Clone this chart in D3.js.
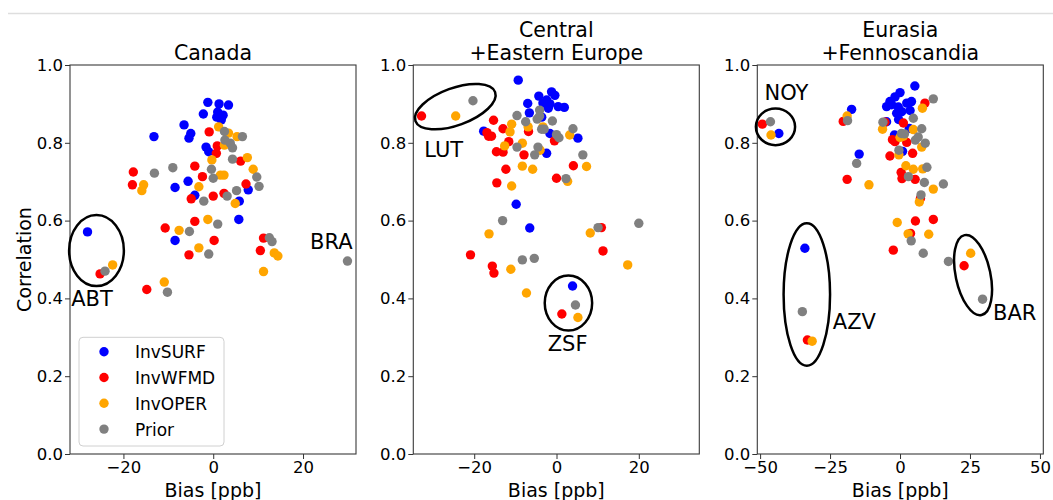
<!DOCTYPE html>
<html>
<head>
<meta charset="utf-8">
<script src="https://cdn.jsdelivr.net/npm/d3@7"></script>
<style>
  body { margin: 0; background: #fff; }
  svg { display: block; font-family: "DejaVu Sans", sans-serif; }
</style>
</head>
<body>
<svg id="chart" width="1053" height="500"></svg>
<script>
const seriesNames = ["InvSURF", "InvWFMD", "InvOPER", "Prior"];
const seriesColors = ["#0000ff", "#ff0000", "#ffa500", "#808080"];
const regionTitles = [["Canada"], ["Central", "+Eastern Europe"], ["Eurasia", "+Fennoscandia"]];
const yTicks = [0, 0.2, 0.4, 0.6, 0.8, 1.0];
const xTicks = [[-20, 0, 20], [-20, 0, 20], [-50, -25, 0, 25, 50]];
const xDomains = [[-31.9, 31.8], [-34.8, 34.7], [-51, 51.2]];

// [bias ppb, correlation]
const canadaSurf = [[-1.2,0.904],[1.3,0.900],[3.4,0.897],[-2.2,0.874],[1.0,0.879],[2.2,0.871],[1.8,0.859],[0.8,0.866],[-6.5,0.846],[-5.0,0.824],[-5.4,0.812],[-13.2,0.816],[-1.6,0.789],[-1.0,0.777],[-5.6,0.701],[-8.5,0.685],[-4.1,0.665],[7.8,0.679],[5.8,0.650],[5.7,0.603],[-28.0,0.571],[-8.5,0.549]];
const canadaWfmd = [[-0.9,0.828],[0.9,0.792],[0.7,0.773],[6.1,0.753],[-4.1,0.740],[-17.8,0.725],[-18.0,0.692],[-2.4,0.713],[7.3,0.694],[0.0,0.663],[2.4,0.670],[-4.9,0.656],[-4.1,0.598],[-10.7,0.581],[0.2,0.549],[-5.4,0.512],[11.2,0.555],[10.5,0.523],[-14.8,0.423],[-25.2,0.463]];
const canadaOper = [[1.2,0.841],[3.4,0.825],[5.3,0.816],[2.5,0.794],[-0.3,0.756],[7.6,0.762],[8.9,0.732],[1.6,0.717],[2.4,0.717],[-15.5,0.692],[-15.9,0.677],[-3.2,0.687],[4.9,0.644],[-1.2,0.603],[-7.6,0.575],[-3.2,0.530],[13.6,0.517],[14.4,0.509],[11.2,0.469],[-10.9,0.442],[-22.4,0.486]];
const canadaPrior = [[2.5,0.829],[2.6,0.807],[3.8,0.799],[4.3,0.787],[6.5,0.816],[4.3,0.758],[-9.0,0.736],[-13.1,0.722],[-0.4,0.732],[0.0,0.709],[9.7,0.712],[10.2,0.688],[5.2,0.677],[3.1,0.663],[-2.1,0.650],[1.0,0.591],[-5.3,0.572],[-1.0,0.514],[12.5,0.556],[13.1,0.546],[29.9,0.496],[-10.2,0.416],[-24.1,0.470]];

const europeSurf = [[-9.3,0.961],[-4.3,0.920],[-1.2,0.931],[-0.4,0.922],[-2.4,0.910],[-1.6,0.900],[-3.3,0.902],[-2.0,0.889],[0.4,0.893],[1.9,0.891],[-7.0,0.901],[-6.6,0.877],[-3.6,0.866],[-17.7,0.830],[-1.6,0.824],[5.2,0.812],[-2.4,0.773],[-9.8,0.642],[-6.5,0.581],[3.9,0.432]];
const europeWfmd = [[-32.8,0.869],[-15.3,0.858],[-13.0,0.836],[-16.9,0.826],[-16.5,0.817],[-15.8,0.817],[-6.8,0.829],[-11.6,0.803],[-0.5,0.805],[-14.6,0.777],[-13.0,0.776],[-7.9,0.769],[-12.3,0.732],[4.1,0.741],[0.0,0.709],[-14.5,0.697],[10.9,0.582],[11.3,0.522],[-20.9,0.512],[-15.6,0.483],[-15.2,0.465],[1.3,0.360]];
const europeOper = [[-24.5,0.869],[-10.9,0.848],[-11.3,0.828],[-6.9,0.841],[-3.3,0.841],[-12.6,0.792],[-8.3,0.799],[-4.0,0.781],[3.2,0.820],[-8.3,0.740],[-5.8,0.732],[7.3,0.739],[-10.9,0.689],[2.7,0.701],[-16.4,0.566],[8.2,0.568],[-11.1,0.475],[-7.3,0.414],[17.3,0.486],[5.2,0.351]];
const europePrior = [[-20.3,0.908],[-9.6,0.870],[-7.5,0.854],[-4.1,0.884],[-4.1,0.869],[-4.7,0.861],[-1.0,0.856],[-3.6,0.835],[-3.0,0.835],[0.0,0.821],[0.6,0.813],[4.0,0.836],[-9.6,0.789],[-4.5,0.789],[-5.3,0.769],[6.4,0.769],[2.3,0.708],[-13.1,0.600],[10.1,0.582],[20.0,0.593],[-8.3,0.499],[-5.4,0.503],[4.6,0.383]];

const eurasiaSurf = [[5.3,0.946],[0.0,0.929],[-1.8,0.918],[-3.6,0.906],[-4.8,0.893],[-3.0,0.898],[2.4,0.902],[4.1,0.906],[3.6,0.883],[-0.6,0.892],[0.6,0.880],[-1.2,0.876],[-17.3,0.886],[-4.8,0.854],[-0.5,0.860],[3.3,0.837],[-2.0,0.820],[0.9,0.778],[-14.6,0.771],[-43.3,0.824],[-34.0,0.529]];
const eurasiaWfmd = [[-49.2,0.848],[8.9,0.902],[-20.3,0.855],[-5.4,0.853],[1.2,0.851],[-2.7,0.808],[-1.8,0.803],[2.4,0.801],[4.5,0.773],[-3.6,0.766],[0.4,0.724],[0.7,0.708],[5.4,0.706],[-18.9,0.706],[7.3,0.657],[5.5,0.599],[11.9,0.603],[3.75,0.567],[-2.4,0.524],[-33.1,0.293],[22.9,0.484]];
const eurasiaOper = [[-46.1,0.820],[8.0,0.889],[-18.9,0.869],[-6.25,0.835],[0.0,0.814],[1.2,0.817],[4.75,0.834],[7.75,0.789],[-0.4,0.769],[2.1,0.741],[4.75,0.732],[8.1,0.733],[-11.1,0.692],[11.9,0.681],[6.9,0.648],[-1.0,0.595],[2.9,0.566],[10.25,0.565],[25.25,0.516],[-31.4,0.290]];
const eurasiaPrior = [[-46.3,0.854],[11.9,0.913],[-18.75,0.857],[-6.1,0.853],[4.75,0.863],[0.5,0.824],[1.6,0.823],[7.75,0.836],[6.5,0.815],[5.5,0.807],[9.0,0.799],[-0.4,0.781],[-15.5,0.747],[9.6,0.737],[3.0,0.713],[8.7,0.698],[15.5,0.694],[7.5,0.666],[4.0,0.548],[8.3,0.516],[17.3,0.495],[29.5,0.398],[-34.9,0.366]];

// station call-outs: ellipse centre/radii in data units, label anchor in data units
const canadaNotes = [
  {label: "ABT", lx: -27.0, ly: 0.380, cx: -26.0, cy: 0.523, rx: 6.1, ry: 0.0913, angle: 0},
  {label: "BRA", lx: 26.3, ly: 0.526}
];
const europeNotes = [
  {label: "LUT", lx: -27.4, ly: 0.764, cx: -24.6, cy: 0.893, rx: 10.3, ry: 0.0478, angle: -20},
  {label: "ZSF", lx: 2.7, ly: 0.266, cx: 2.9, cy: 0.388, rx: 5.76, ry: 0.0707, angle: 0}
];
const eurasiaNotes = [
  {label: "NOY", lx: -40.6, ly: 0.910, cx: -44.5, cy: 0.841, rx: 7.0, ry: 0.047, angle: 0},
  {label: "AZV", lx: -16.3, ly: 0.322, cx: -33.3, cy: 0.410, rx: 8.3, ry: 0.183, angle: 0},
  {label: "BAR", lx: 41.0, ly: 0.344, cx: 26.1, cy: 0.460, rx: 6.2, ry: 0.105, angle: -12}
];

const panels = [
  {series: [canadaSurf, canadaWfmd, canadaOper, canadaPrior], notes: canadaNotes},
  {series: [europeSurf, europeWfmd, europeOper, europePrior], notes: europeNotes},
  {series: [eurasiaSurf, eurasiaWfmd, eurasiaOper, eurasiaPrior], notes: eurasiaNotes}
];

const svg = d3.select("#chart");
const lefts = [70, 413.3, 757.3];
const plotW = 286;
const plotTop = 65, plotBottom = 454;
const r = 4.7;

// thin page rule at the very top
svg.append("line")
  .attr("x1", 8).attr("x2", 1053).attr("y1", 13.5).attr("y2", 13.5)
  .attr("stroke", "#dedede").attr("stroke-width", 1.5);

panels.forEach((p, i) => {
  const x = d3.scaleLinear().domain(xDomains[i]).range([lefts[i], lefts[i] + plotW]);
  const y = d3.scaleLinear().domain([0, 1]).range([plotBottom, plotTop]);
  const g = svg.append("g");

  // title
  const lines = regionTitles[i];
  lines.forEach((t, k) => {
    g.append("text")
      .attr("x", lefts[i] + plotW / 2)
      .attr("y", 60 - (lines.length - 1 - k) * 23.4)
      .attr("text-anchor", "middle")
      .attr("font-size", "20.5px")
      .text(t);
  });

  const xAxis = g.append("g")
    .attr("transform", "translate(0," + plotBottom + ")")
    .call(d3.axisBottom(x).tickValues(xTicks[i]).tickSize(5).tickPadding(2.5).tickSizeOuter(0));
  const yAxis = g.append("g")
    .attr("transform", "translate(" + lefts[i] + ",0)")
    .call(d3.axisLeft(y).tickValues(yTicks).tickFormat(d3.format(".1f")).tickSize(5).tickPadding(2).tickSizeOuter(0));
  [xAxis, yAxis].forEach(a => {
    a.select(".domain").remove();
    a.selectAll("text").attr("font-size", "16.5px").attr("fill", "#000").attr("font-family", "DejaVu Sans");
    a.selectAll("line").attr("stroke", "#333");
  });

  // points, series by series
  p.series.forEach((pts, s) => {
    g.selectAll(null)
      .data(pts)
      .enter()
      .append("circle")
      .attr("cx", d => x(d[0]))
      .attr("cy", d => y(d[1]))
      .attr("r", r)
      .attr("fill", seriesColors[s]);
  });

  // frame
  g.append("rect")
    .attr("x", lefts[i]).attr("y", plotTop)
    .attr("width", plotW).attr("height", plotBottom - plotTop)
    .attr("fill", "none").attr("stroke", "#3a3a3a").attr("stroke-width", 1.1);

  // call-outs
  p.notes.forEach(n => {
    if (n.cx !== undefined) {
      const px = x(n.cx), py = y(n.cy);
      g.append("ellipse")
        .attr("cx", 0).attr("cy", 0)
        .attr("rx", x(n.cx + n.rx) - px)
        .attr("ry", py - y(n.cy + n.ry))
        .attr("transform", "translate(" + px + "," + py + ") rotate(" + n.angle + ")")
        .attr("fill", "none").attr("stroke", "#000").attr("stroke-width", 2.5);
    }
    g.append("text")
      .attr("x", x(n.lx)).attr("y", y(n.ly))
      .attr("text-anchor", "middle")
      .attr("font-size", "21px")
      .text(n.label);
  });

  // axis labels
  g.append("text")
    .attr("x", lefts[i] + plotW / 2).attr("y", 497)
    .attr("text-anchor", "middle").attr("font-size", "19px")
    .text("Bias [ppb]");
  if (i === 0) {
    g.append("text")
      .attr("transform", "translate(31," + ((plotTop + plotBottom) / 2) + ") rotate(-90)")
      .attr("text-anchor", "middle").attr("font-size", "19px")
      .text("Correlation");

    // legend
    const lg = g.append("g");
    lg.append("rect")
      .attr("x", 79).attr("y", 337.3).attr("width", 145).attr("height", 108.7)
      .attr("rx", 4).attr("fill", "#fff").attr("fill-opacity", 0.8)
      .attr("stroke", "#d0d0d0").attr("stroke-width", 1);
    seriesNames.forEach((name, s) => {
      const ly = 351.7 + s * 25.8;
      lg.append("circle").attr("cx", 104).attr("cy", ly).attr("r", r).attr("fill", seriesColors[s]);
      lg.append("text").attr("x", 135).attr("y", ly + 6.5).attr("font-size", "17px").text(name);
    });
  }
});
</script>
</body>
</html>
